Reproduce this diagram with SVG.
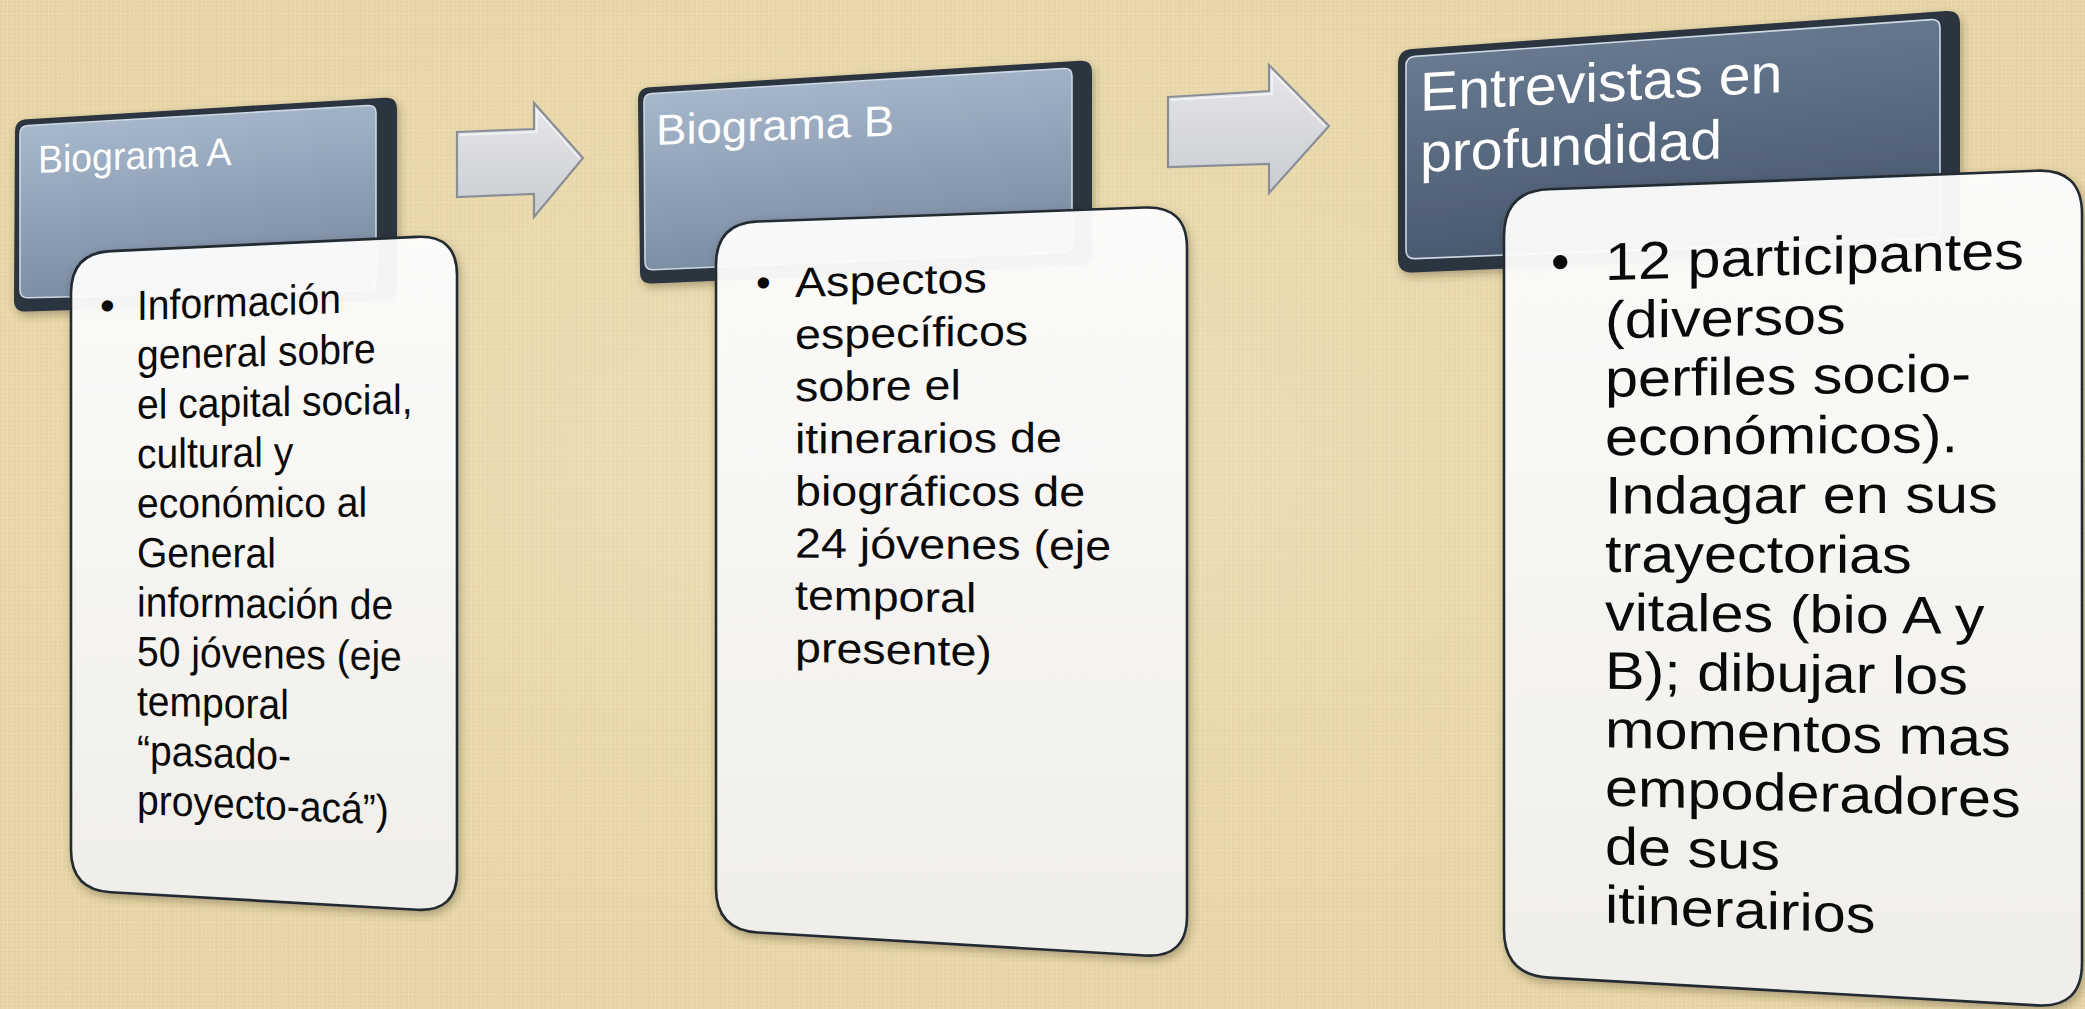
<svg xmlns="http://www.w3.org/2000/svg" width="2085" height="1009" viewBox="0 0 2085 1009">
<style>
.hout{fill:#2b3540}
.hin{stroke:#cdd8e3;stroke-width:1.6}
.cnt{fill:url(#gCnt);stroke:#242b32;stroke-width:2.6;filter:url(#sh)}
.arr{fill:url(#gArr);stroke:#8a8f97;stroke-width:2.2;stroke-linejoin:miter}
.arrhi{fill:none;stroke:#ffffff;stroke-opacity:0.7;stroke-width:1.4}
.ht{font-family:"Liberation Sans",Arial,sans-serif;fill:#ffffff}
.ct{font-family:"Liberation Sans",Arial,sans-serif;fill:#0a0a0a}
</style>
<defs>
<pattern id="tex" width="9" height="9" patternUnits="userSpaceOnUse">
<rect width="9" height="9" fill="#e9d9ab"/>
<path d="M0 2.5H9M0 6.5H9" stroke="#d9c591" stroke-width="0.8" stroke-opacity="0.45"/>
<path d="M3.5 0V9M7.5 0V9" stroke="#f3e8c6" stroke-width="0.9" stroke-opacity="0.5"/>
</pattern>
<radialGradient id="gGlow" cx="0.45" cy="0.45" r="0.7">
<stop offset="0" stop-color="#f2e6c2" stop-opacity="0.45"/>
<stop offset="1" stop-color="#dcc896" stop-opacity="0.25"/>
</radialGradient>
<linearGradient id="gHdrL" x1="0" y1="0" x2="0.25" y2="1">
<stop offset="0" stop-color="#adbdd2"/>
<stop offset="1" stop-color="#7b8ba2"/>
</linearGradient>
<linearGradient id="gHdrD" x1="0" y1="0" x2="0.25" y2="1">
<stop offset="0" stop-color="#6e7f97"/>
<stop offset="1" stop-color="#48586e"/>
</linearGradient>
<linearGradient id="gCnt" x1="0" y1="0" x2="0" y2="1">
<stop offset="0" stop-color="#ffffff" stop-opacity="0.94"/>
<stop offset="1" stop-color="#f1efec" stop-opacity="0.97"/>
</linearGradient>
<linearGradient id="gArr" x1="0" y1="0" x2="0" y2="1">
<stop offset="0" stop-color="#e6e7ea"/>
<stop offset="1" stop-color="#c9ccd1"/>
</linearGradient>
<filter id="sh" x="-10%" y="-10%" width="120%" height="120%">
<feDropShadow dx="2" dy="4" stdDeviation="4" flood-color="#3a3020" flood-opacity="0.35"/>
</filter>
</defs>

<rect width="2085" height="1009" fill="url(#tex)"/>
<rect width="2085" height="1009" fill="url(#gGlow)"/>

<g id="connectors">
<g id="arrow-1">
<polygon class="arr" points="457,132 534,129 534,103 583,158 534,217 534,194 457,197"/>
<polyline class="arrhi" points="460,135 537,132 537,110 579,158"/>
</g>
<g id="arrow-2">
<polygon class="arr" points="1168,97 1269,91 1269,65 1329,126 1269,193 1269,164 1168,167"/>
<polyline class="arrhi" points="1171,100 1272,94 1272,72 1325,126"/>
</g>
</g>

<g id="node-a">
<g filter="url(#sh)">
<path class="hout" d="M27,119.3 L385,97.7 Q397,97 397,109 L397,288 Q397,300 385,300.4 L26,311.6 Q14,312 14,300 L15,132 Q15,120 27,119.3 Z"/>
<path class="hin" fill="url(#gHdrL)" d="M28,125.5 L368,105.5 Q376,105 376,113 L376,282 Q376,290 368,290.2 L28,297.8 Q20,298 20,290 L20,134 Q20,126 28,125.5 Z"/>
</g>
<text class="ht" font-size="39" transform="translate(38,173) skewY(-2.35) scale(0.96,1)">Biograma A</text>
<path class="cnt" d="M111,251.1 L417,236.9 Q457,235 457,275 L457,872 Q457,912 417,909.7 L111,892.3 Q71,890 71,850 L71,293 Q71,253 111,251.1 Z"/>
<g class="ct" font-size="42">
<text transform="translate(100,320) skewY(-1.97)">•</text>
<text transform="translate(137,320) skewY(-1.97) scale(0.93,1)">Información</text>
<text transform="translate(137,369.4) skewY(-1.53) scale(0.93,1)">general sobre</text>
<text transform="translate(137,418.8) skewY(-1.10) scale(0.93,1)">el capital social,</text>
<text transform="translate(137,468.2) skewY(-0.66) scale(0.93,1)">cultural y</text>
<text transform="translate(137,517.6) skewY(-0.22) scale(0.93,1)">económico al</text>
<text transform="translate(137,567) skewY(0.22) scale(0.93,1)">General</text>
<text transform="translate(137,616.4) skewY(0.65) scale(0.93,1)">información de</text>
<text transform="translate(137,665.8) skewY(1.09) scale(0.93,1)">50 jóvenes (eje</text>
<text transform="translate(137,715.2) skewY(1.53) scale(0.93,1)">temporal</text>
<text transform="translate(137,764.6) skewY(1.96) scale(0.93,1)">“pasado-</text>
<text transform="translate(137,814) skewY(2.40) scale(0.93,1)">proyecto-acá”)</text>
</g>
</g>

<g id="node-b">
<g filter="url(#sh)">
<path class="hout" d="M650,87.3 L1080,60.7 Q1092,60 1092,72 L1092,253 Q1092,265 1080,265.5 L652,283.5 Q640,284 640,272 L638,100 Q638,88 650,87.3 Z"/>
<path class="hin" fill="url(#gHdrL)" d="M652,93.5 L1064,68.5 Q1072,68 1072,76 L1072,244 Q1072,252 1064,252.3 L653,269.7 Q645,270 645,262 L644,102 Q644,94 652,93.5 Z"/>
</g>
<text class="ht" font-size="43" transform="translate(656,145) skewY(-2.3) scale(1.06,1)">Biograma B</text>
<path class="cnt" d="M758,221.5 L1145,207.5 Q1187,206 1187,248 L1187,916 Q1187,958 1145,955.5 L758,932.5 Q716,930 716,888 L716,265 Q716,223 758,221.5 Z"/>
<g class="ct" font-size="42">
<text transform="translate(756,297) skewY(-1.44)">•</text>
<text transform="translate(795,297) skewY(-1.44) scale(1.11,1)">Aspectos</text>
<text transform="translate(795,349.1) skewY(-1.05) scale(1.11,1)">específicos</text>
<text transform="translate(795,401.2) skewY(-0.66) scale(1.11,1)">sobre el</text>
<text transform="translate(795,453.3) skewY(-0.27) scale(1.11,1)">itinerarios de</text>
<text transform="translate(795,505.4) skewY(0.12) scale(1.11,1)">biográficos de</text>
<text transform="translate(795,557.5) skewY(0.51) scale(1.11,1)">24 jóvenes (eje</text>
<text transform="translate(795,609.6) skewY(0.90) scale(1.11,1)">temporal</text>
<text transform="translate(795,661.7) skewY(1.29) scale(1.11,1)">presente)</text>
</g>
</g>

<g id="node-c">
<g filter="url(#sh)">
<path class="hout" d="M1412,49 L1946,11 Q1960,10 1960,24 L1960,236 Q1960,250 1946,250.6 L1412,272.4 Q1398,273 1398,259 L1398,64 Q1398,50 1412,49 Z"/>
<path class="hin" fill="url(#gHdrD)" d="M1415,56.4 L1931,19.6 Q1940,19 1940,28 L1940,229 Q1940,238 1931,238.4 L1415,258.6 Q1406,259 1406,250 L1406,66 Q1406,57 1415,56.4 Z"/>
</g>
<text class="ht" font-size="55" transform="translate(1420,111) skewY(-3) scale(1.04,1)">Entrevistas en</text>
<text class="ht" font-size="55" transform="translate(1420,172) skewY(-2.6) scale(1.04,1)">profundidad</text>
<path class="cnt" d="M1549,189.3 L2037,170.7 Q2082,169 2082,214 L2082,963 Q2082,1008 2037,1005.4 L1549,977.6 Q1504,975 1504,930 L1504,236 Q1504,191 1549,189.3 Z"/>
<g class="ct" font-size="53">
<text transform="translate(1551,280) skewY(-1.55)">•</text>
<text transform="translate(1605,280) skewY(-1.55) scale(1.12,1)">12 participantes</text>
<text transform="translate(1605,338.4) skewY(-1.20) scale(1.12,1)">(diversos</text>
<text transform="translate(1605,396.8) skewY(-0.85) scale(1.12,1)">perfiles socio-</text>
<text transform="translate(1605,455.2) skewY(-0.50) scale(1.12,1)">económicos).</text>
<text transform="translate(1605,513.6) skewY(-0.15) scale(1.12,1)">Indagar en sus</text>
<text transform="translate(1605,572) skewY(0.20) scale(1.12,1)">trayectorias</text>
<text transform="translate(1605,630.4) skewY(0.55) scale(1.12,1)">vitales (bio A y</text>
<text transform="translate(1605,688.8) skewY(0.90) scale(1.12,1)">B); dibujar los</text>
<text transform="translate(1605,747.2) skewY(1.25) scale(1.12,1)">momentos mas</text>
<text transform="translate(1605,805.6) skewY(1.60) scale(1.12,1)">empoderadores</text>
<text transform="translate(1605,864) skewY(1.95) scale(1.12,1)">de sus</text>
<text transform="translate(1605,922.4) skewY(2.30) scale(1.12,1)">itinerairios</text>
</g>
</g>
</svg>
